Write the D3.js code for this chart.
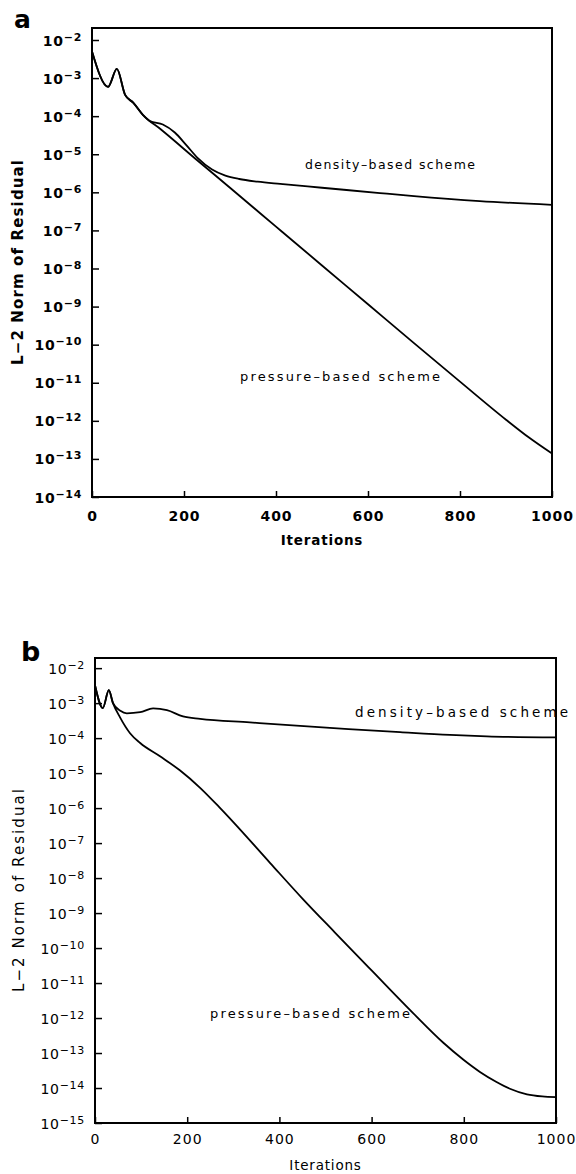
<!DOCTYPE html>
<html>
<head>
<meta charset="utf-8">
<script src="https://cdn.jsdelivr.net/npm/d3@7"></script>
<style>
  body { margin: 0; background: #fff; }
  svg { display: block; }
  text { font-family: "DejaVu Sans", sans-serif; fill: #000; }
</style>
</head>
<body>
<div id="chart"></div>
<script>
// ---------------------------------------------------------------------------
// data (residual values stored as log10 exponents)
// ---------------------------------------------------------------------------

// panel a
var aPressureIter = [0, 35, 54, 72, 90, 111, 150, 228, 300, 400, 500, 600, 700, 800, 900, 950, 1000];
var aPressureLog = [-2.3, -3.23, -2.76, -3.44, -3.65, -3.97, -4.35, -5.15, -5.88, -6.9, -7.92, -8.94, -9.96, -10.97, -11.97, -12.44, -12.86];

var aDensityIter = [0, 35, 54, 72, 90, 111, 126, 154, 180, 205, 230, 261, 290, 320, 360, 409, 500, 626, 700, 843, 1000];
var aDensityLog = [-2.3, -3.23, -2.76, -3.44, -3.65, -3.97, -4.13, -4.22, -4.43, -4.76, -5.1, -5.4, -5.56, -5.65, -5.72, -5.78, -5.88, -6.02, -6.1, -6.23, -6.33];

// panel b
var bPressureIter = [0, 17, 30, 39, 54, 76, 98, 141, 184, 228, 270, 300, 380, 451, 520, 600, 690, 755, 800, 835, 870, 900, 937, 970, 1000];
var bPressureLog = [-2.49, -3.14, -2.63, -3.0, -3.4, -3.86, -4.14, -4.52, -4.92, -5.42, -5.98, -6.4, -7.57, -8.6, -9.55, -10.64, -11.86, -12.7, -13.2, -13.54, -13.82, -14.02, -14.18, -14.24, -14.26];

var bDensityIter = [0, 17, 30, 39, 55, 69, 98, 126, 156, 191, 228, 336, 445, 550, 662, 770, 850, 1000];
var bDensityLog = [-2.49, -3.14, -2.63, -3.0, -3.22, -3.29, -3.26, -3.15, -3.2, -3.38, -3.45, -3.55, -3.65, -3.74, -3.83, -3.91, -3.95, -3.98];

// tick labels
var xTicks = [0, 200, 400, 600, 800, 1000];
var aYExp = [-2, -3, -4, -5, -6, -7, -8, -9, -10, -11, -12, -13, -14];
var bYExp = [-2, -3, -4, -5, -6, -7, -8, -9, -10, -11, -12, -13, -14, -15];

var W = 576, H = 1174;

var svg = d3
  .select("#chart")
  .append("svg")
  .attr("width", W)
  .attr("height", H);

svg.append("rect").attr("width", W).attr("height", H).attr("fill", "white");

// *****************************************************************************
// panel a
// *****************************************************************************
drawPanel({
  letter: "a",
  letterX: 14, letterY: 28, letterSize: 25,
  left: 92, right: 552, top: 28, bottom: 497,
  yTop: -1.685, yBottom: -14,
  yExp: aYExp,
  weight: "bold",
  tickFont: 14,
  xLabelPad: 14, titleY: 545,
  yTitleX: 18, yTitleLen: 205,
  series: [
    { iter: aDensityIter, log: aDensityLog },
    { iter: aPressureIter, log: aPressureLog },
  ],
  notes: [
    { text: "density\u2013based  scheme", x: 305, y: 169, len: 170, size: 12.5 },
    { text: "pressure\u2013based  scheme", x: 240, y: 381, len: 200, size: 13 },
  ],
});

// *****************************************************************************
// panel b
// *****************************************************************************
drawPanel({
  letter: "b",
  letterX: 21, letterY: 661, letterSize: 27,
  left: 95, right: 556, top: 658, bottom: 1123,
  yTop: -1.71, yBottom: -15,
  yExp: bYExp,
  weight: "normal",
  tickFont: 14,
  xLabelPad: 11, titleY: 1170,
  yTitleX: 19, yTitleLen: 203,
  series: [
    { iter: bDensityIter, log: bDensityLog },
    { iter: bPressureIter, log: bPressureLog },
  ],
  notes: [
    { text: "density\u2013based  scheme", x: 355, y: 717, len: 213, size: 13.5 },
    { text: "pressure\u2013based  scheme", x: 210, y: 1018, len: 200, size: 13 },
  ],
});

function drawPanel(cfg) {
  var x = d3.scaleLinear().domain([0, 1000]).range([cfg.left, cfg.right]);
  var y = d3
    .scaleLog()
    .domain([Math.pow(10, cfg.yBottom), Math.pow(10, cfg.yTop)])
    .range([cfg.bottom, cfg.top]);

  // panel letter
  svg
    .append("text")
    .attr("x", cfg.letterX)
    .attr("y", cfg.letterY)
    .style("font-size", cfg.letterSize + "px")
    .style("font-weight", "bold")
    .text(cfg.letter);

  // x axis, ticks pointing inward
  var gx = svg
    .append("g")
    .attr("transform", "translate(0," + cfg.bottom + ")")
    .call(
      d3
        .axisBottom(x)
        .tickValues(xTicks)
        .tickSizeInner(-6)
        .tickSizeOuter(0)
        .tickPadding(cfg.xLabelPad)
        .tickFormat(d3.format("d"))
    );
  gx.select(".domain").remove();
  gx.selectAll("line").attr("stroke", "#000").attr("stroke-width", 1.5);
  gx.selectAll("text")
    .style("font-family", "DejaVu Sans")
    .style("font-size", cfg.tickFont + "px")
    .style("font-weight", cfg.weight)
    .style("letter-spacing", "1px");

  // y axis, decades with superscript labels
  var gy = svg
    .append("g")
    .attr("transform", "translate(" + cfg.left + ",0)")
    .call(
      d3
        .axisLeft(y)
        .tickValues(
          cfg.yExp.map(function (e) {
            return Math.pow(10, e);
          })
        )
        .tickSizeInner(-7)
        .tickSizeOuter(0)
        .tickPadding(10)
        .tickFormat("")
    );
  gy.select(".domain").remove();
  gy.selectAll("line").attr("stroke", "#000").attr("stroke-width", 1.5);
  gy.selectAll(".tick text").each(function (d) {
    var el = d3.select(this);
    el.text(null)
      .attr("dy", "0.36em")
      .style("font-family", "DejaVu Sans")
      .style("font-size", cfg.tickFont + "px")
      .style("font-weight", cfg.weight)
      .style("letter-spacing", "0.7px");
    el.append("tspan").text("10");
    el.append("tspan")
      .attr("dy", "-5")
      .style("font-size", cfg.tickFont - 3 + "px")
      .text("\u2212" + Math.round(-Math.log10(d)));
  });

  // frame
  svg
    .append("rect")
    .attr("x", cfg.left)
    .attr("y", cfg.top)
    .attr("width", cfg.right - cfg.left)
    .attr("height", cfg.bottom - cfg.top)
    .attr("fill", "none")
    .attr("stroke", "#000")
    .attr("stroke-width", 2);

  // axis titles
  svg
    .append("text")
    .attr("x", (cfg.left + cfg.right) / 2)
    .attr("y", cfg.titleY)
    .attr("text-anchor", "middle")
    .style("font-size", "13.5px")
    .style("font-weight", cfg.weight)
    .style("letter-spacing", "0.8px")
    .text("Iterations");

  var cy = (cfg.top + cfg.bottom) / 2;
  svg
    .append("text")
    .attr("transform", "translate(" + (cfg.yTitleX + 5) + "," + cy + ") rotate(-90)")
    .attr("text-anchor", "middle")
    .attr("textLength", cfg.yTitleLen)
    .attr("lengthAdjust", "spacing")
    .style("font-size", "15px")
    .style("font-weight", cfg.weight)
    .text("L\u22122  Norm  of  Residual");

  // curves
  var line = d3
    .line()
    .x(function (d) {
      return x(d[0]);
    })
    .y(function (d) {
      return y(Math.pow(10, d[1]));
    })
    .curve(d3.curveMonotoneX);

  cfg.series.forEach(function (s) {
    var pts = s.iter.map(function (it, i) {
      return [it, s.log[i]];
    });
    svg
      .append("path")
      .datum(pts)
      .attr("fill", "none")
      .attr("stroke", "#000")
      .attr("stroke-width", 1.8)
      .attr("stroke-linejoin", "round")
      .attr("d", line);
  });

  // curve labels
  cfg.notes.forEach(function (n) {
    svg
      .append("text")
      .attr("x", n.x)
      .attr("y", n.y)
      .attr("textLength", n.len)
      .attr("lengthAdjust", "spacing")
      .style("font-size", n.size + "px")
      .text(n.text);
  });
}
</script>
</body>
</html>
